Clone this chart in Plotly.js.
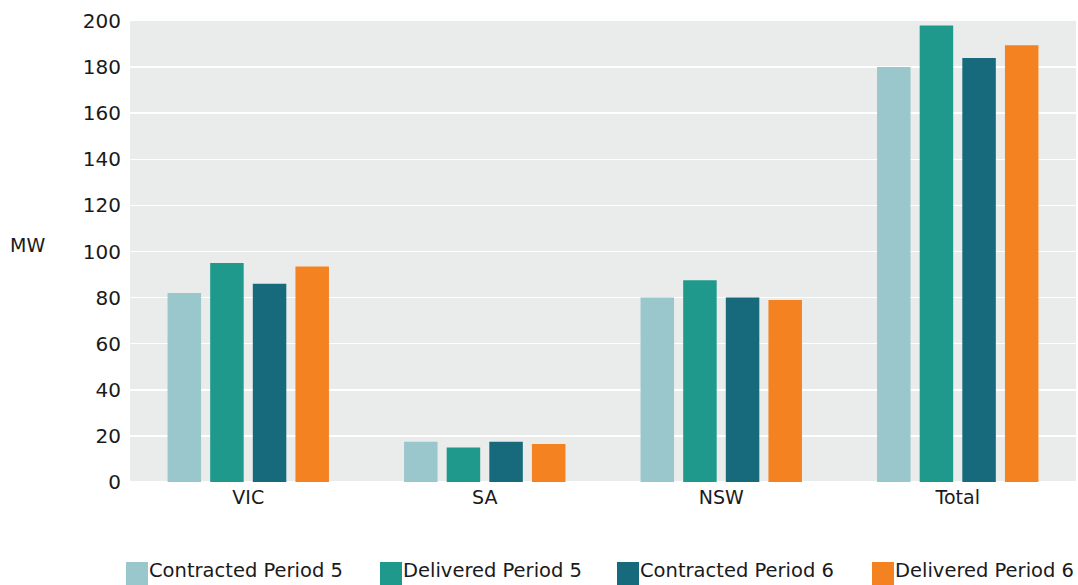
<!DOCTYPE html>
<html>
<head>
<meta charset="utf-8">
<script src="https://cdn.plot.ly/plotly-3.0.1.min.js"></script>
<style>
  html, body { margin: 0; padding: 0; background: #ffffff; }
  #chart { width: 1078px; height: 585px; }
</style>
</head>
<body>
<div id="chart"></div>
<script>
// Regions along the x axis
const regions = ['VIC', 'SA', 'NSW', 'Total'];

// MW per region for each series
const contractedP5 = [82, 17.5, 80, 180];
const deliveredP5  = [95, 15, 87.5, 198];
const contractedP6 = [86, 17.5, 80, 184];
const deliveredP6  = [93.5, 16.5, 79, 189.5];

const seriesNames  = ['Contracted Period 5', 'Delivered Period 5', 'Contracted Period 6', 'Delivered Period 6'];
const seriesValues = [contractedP5, deliveredP5, contractedP6, deliveredP6];
const seriesColors = ['#9ac7cc', '#1f998b', '#176a7b', '#f58220'];

// y axis ticks
const yTicks = [0, 20, 40, 60, 80, 100, 120, 140, 160, 180, 200];

const FONT = '"DejaVu Sans", "Open Sans", sans-serif';
const TEXT = '#1a1a1a';

const traces = seriesNames.map((name, i) => ({
  type: 'bar',
  name: name,
  x: regions,
  y: seriesValues[i],
  marker: { color: seriesColors[i], line: { width: 0 } },
  showlegend: false,
  hoverinfo: 'x+y+name'
}));

// Legend: large square swatches with labels underneath the plot
const legendX = [126, 380, 617, 872];   // pixel positions of each swatch
const W = 1078, H = 585;
const mL = 130, mR = 2, mT = 21, mB = 103;
const plotW = W - mL - mR, plotH = H - mT - mB;
const px2paperX = px => (px - mL) / plotW;
const px2paperY = py => (H - mB - py) / plotH;

const shapes = [];
const annotations = [];
seriesNames.forEach((name, i) => {
  shapes.push({
    type: 'rect', xref: 'paper', yref: 'paper',
    x0: px2paperX(legendX[i]), x1: px2paperX(legendX[i] + 22),
    y0: px2paperY(585), y1: px2paperY(562),
    fillcolor: seriesColors[i], line: { width: 0 }, layer: 'above'
  });
  annotations.push({
    xref: 'paper', yref: 'paper',
    x: px2paperX(legendX[i] + 22), y: px2paperY(570),
    xanchor: 'left', yanchor: 'middle',
    text: name, showarrow: false,
    borderpad: 0,
    font: { family: FONT, size: 19.5, color: TEXT }
  });
});

// Axis unit label, set horizontally to the left of the tick labels
annotations.push({
  xref: 'paper', yref: 'paper',
  x: px2paperX(27), y: px2paperY(245),
  xanchor: 'center', yanchor: 'middle',
  text: 'MW', showarrow: false,
  font: { family: FONT, size: 19, color: TEXT }
});

const layout = {
  width: W, height: H,
  margin: { l: mL, r: mR, t: mT, b: mB, pad: 0 },
  paper_bgcolor: '#ffffff',
  plot_bgcolor: '#eaeceb',
  barmode: 'group',
  bargap: 0.279,
  bargroupgap: 0.214,
  font: { family: FONT, size: 19, color: TEXT },
  xaxis: {
    type: 'category',
    showgrid: false,
    showline: false,
    zeroline: false,
    ticks: '',
    tickfont: { family: FONT, size: 19, color: TEXT },
    ticklabelstandoff: 2
  },
  yaxis: {
    range: [0, 200],
    tickvals: yTicks,
    ticktext: yTicks.map(String),
    showgrid: true,
    gridcolor: '#ffffff',
    gridwidth: 1.5,
    zeroline: true,
    zerolinecolor: '#ffffff',
    zerolinewidth: 1.5,
    showline: false,
    ticks: '',
    ticklabelstandoff: 8,
    tickfont: { family: FONT, size: 20, color: TEXT }
  },
  shapes: shapes,
  annotations: annotations,
  showlegend: false
};

Plotly.newPlot('chart', traces, layout, { displayModeBar: false, staticPlot: true });
</script>
</body>
</html>
